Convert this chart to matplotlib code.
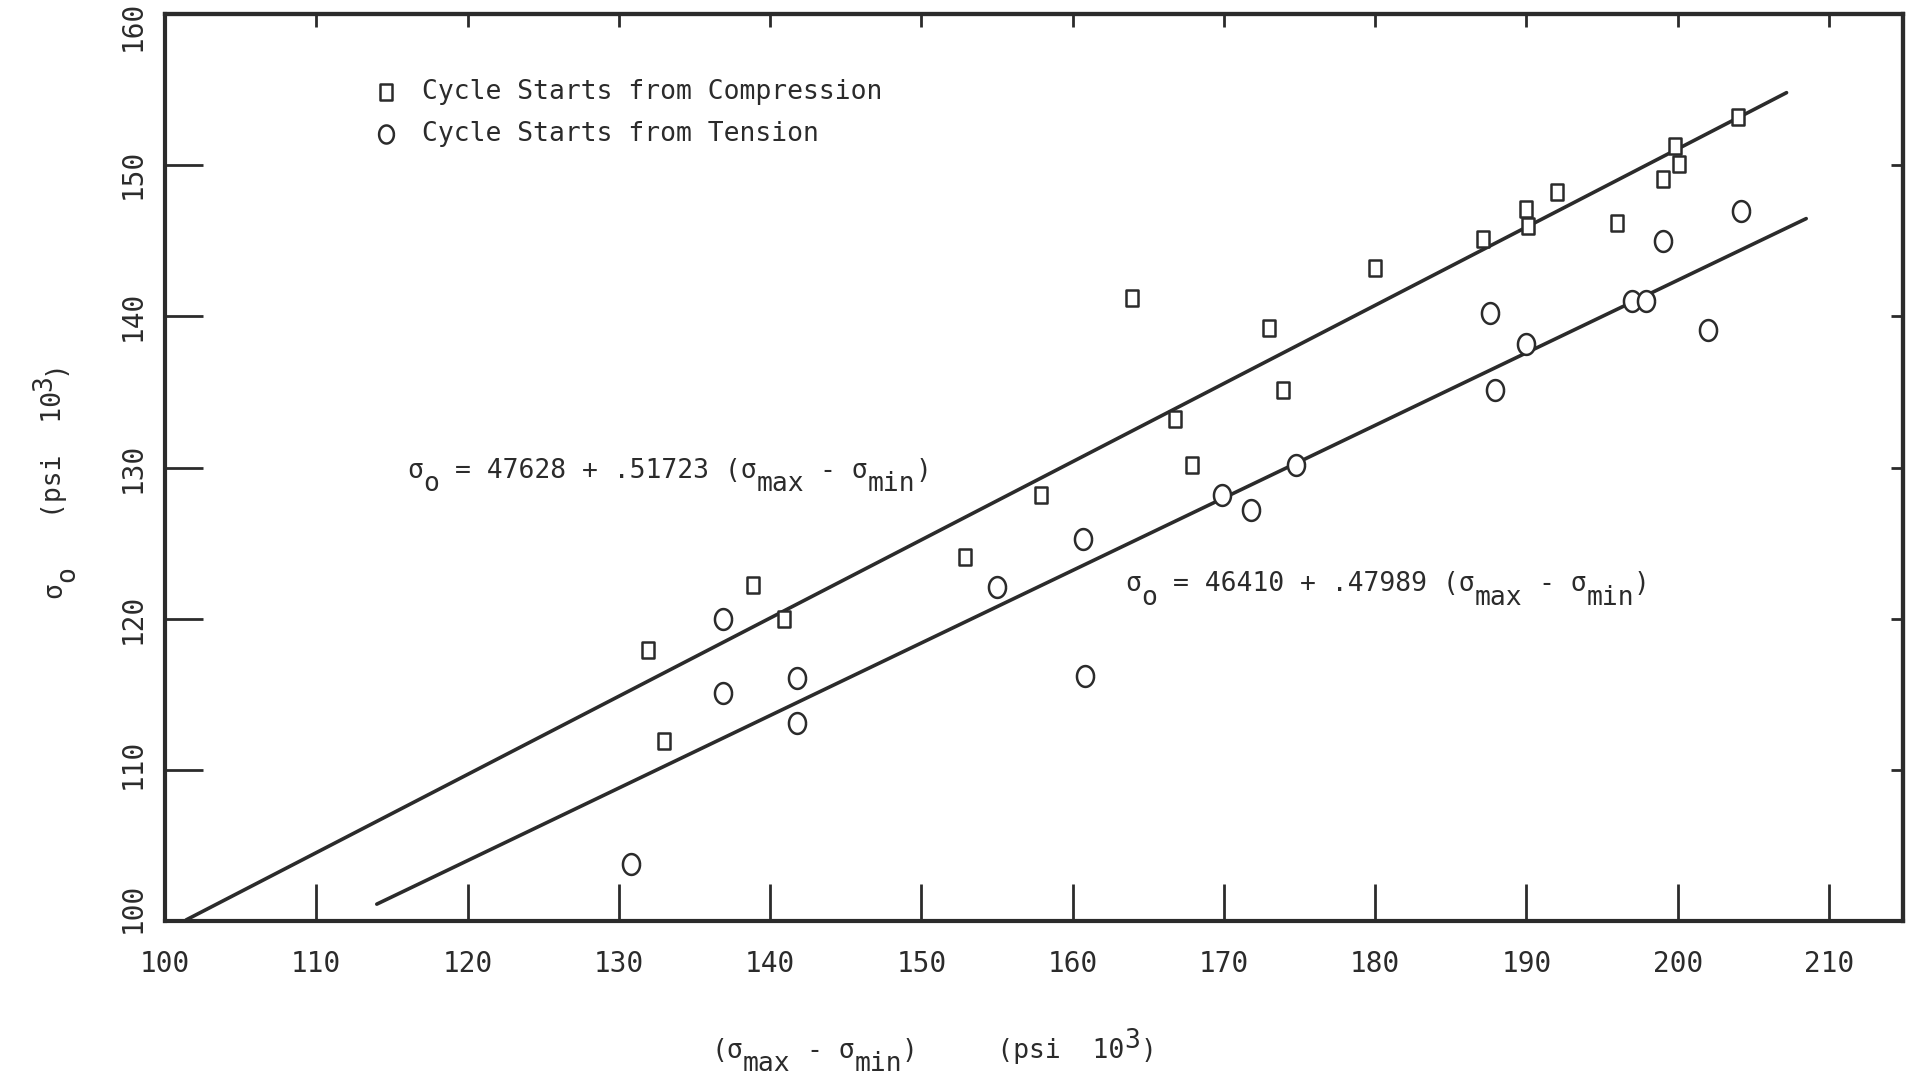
import matplotlib
matplotlib.use("Agg")
import matplotlib.pyplot as plt
from matplotlib.path import Path
from matplotlib.transforms import ScaledTranslation, offset_copy
import numpy as np

plt.rcParams["font.family"] = "DejaVu Sans Mono"

ink = '#2b2b2b'

# cycle starting from compression
comp_x = [131.9, 133.0, 138.9, 140.9, 152.9, 157.9, 163.9, 166.8, 167.9, 173.0, 173.9,
          180.0, 187.1, 190.0, 190.1, 192.0, 196.0, 199.0, 199.8, 200.1, 204.0]
comp_y = [117.9, 111.9, 122.2, 120.0, 124.1, 128.2, 141.2, 133.2, 130.2, 139.2, 135.1,
          143.2, 145.1, 147.1, 146.0, 148.2, 146.2, 149.1, 151.3, 150.1, 153.2]

# cycle starting from tension
tens_x = [130.8, 136.9, 136.9, 141.8, 141.8, 155.0, 160.7, 160.8, 169.9, 171.8,
          174.8, 187.6, 187.9, 190.0, 197.0, 197.9, 199.0, 202.0, 204.2]
tens_y = [103.8, 120.0, 115.1, 116.1, 113.1, 122.1, 125.3, 116.2, 128.2, 127.2,
          130.2, 140.2, 135.1, 138.2, 141.0, 141.0, 145.0, 139.1, 147.0]

# least squares fits (psi), drawn in psi*10^3
fit_comp = (47628., .51723)
fit_tens = (46410., .47989)
fit_comp_x = [101.4, 207.2]
fit_tens_x = [114.0, 208.5]

xticks = [100, 110, 120, 130, 140, 150, 160, 170, 180, 190, 200, 210]
yticks = [100, 110, 120, 130, 140, 150, 160]
# hand placed y labels sit a little off their ticks (pixels, + is up)
ylabel_nudge = {100: 13, 110: 6, 150: -9, 160: -12}

# slightly tall box and oval, like the typed symbols
box = Path([(-0.72, -1), (0.72, -1), (0.72, 1), (-0.72, 1), (-0.72, -1)],
           [Path.MOVETO, Path.LINETO, Path.LINETO, Path.LINETO, Path.CLOSEPOLY])
t = np.linspace(0, 2*np.pi, 60)
oval = Path(np.column_stack((0.82*np.cos(t), np.sin(t))))

fig = plt.figure(figsize=(19.12, 10.79), dpi=100)
ax = fig.add_axes([0.0863, 0.1464, 0.9953-0.0863, 0.987-0.1464])

ADV = 1233/2048.   # advance of a DejaVu Sans Mono glyph, in em


def typed(x, y, pieces, size=19, transform=None, rotation=0):
    """Typewriter style line: full size characters dropped or raised by
    a shift (points) instead of shrunk sub/superscripts."""
    if transform is None:
        transform = ax.transData
    col = 0
    for txt, shift in pieces:
        stripped = txt.lstrip(' ')
        col += len(txt) - len(stripped)
        if stripped:
            along = col*ADV*size
            if rotation == 90:
                dx, dy = -shift, along
            else:
                dx, dy = along, shift
            tr = offset_copy(transform, fig=fig, x=dx, y=dy, units='points')
            ax.text(x, y, stripped, transform=tr, fontsize=size, color=ink,
                    rotation=rotation, rotation_mode='anchor',
                    ha='left', va='baseline')
        col += len(stripped)


DROP = -9.5
RISE = 7.0

xc = np.array(fit_comp_x)
ax.plot(xc, fit_comp[0]/1000. + fit_comp[1]*xc, color=ink, lw=2.6, solid_capstyle='round')
xt = np.array(fit_tens_x)
ax.plot(xt, fit_tens[0]/1000. + fit_tens[1]*xt, color=ink, lw=2.6, solid_capstyle='round')

ax.plot(comp_x, comp_y, ls='none', marker=box, ms=11.5, mfc='white', mec=ink, mew=1.8)
ax.plot(tens_x, tens_y, ls='none', marker=oval, ms=15, mfc='white', mec=ink, mew=1.8)

# key
ax.plot([114.6], [154.85], ls='none', marker=box, ms=11.5, mfc='white', mec=ink, mew=1.8)
ax.plot([114.6], [152.05], ls='none', marker=oval, ms=13, mfc='white', mec=ink, mew=1.8)
ax.text(117.0, 154.85, 'Cycle Starts from Compression', fontsize=19, va='center', color=ink)
ax.text(117.0, 152.05, 'Cycle Starts from Tension', fontsize=19, va='center', color=ink)

for (a, b), x0, y0 in [(fit_comp, 116.0, 129.3), (fit_tens, 163.5, 121.8)]:
    typed(x0, y0, [('\u03c3', 0), ('o', DROP),
                   (' = %d + .%d (\u03c3' % (a, round(b*1e5)), 0), ('max', DROP),
                   (' - \u03c3', 0), ('min', DROP), (')', 0)])

ax.set_xlim(100, 214.9)
ax.set_ylim(100, 160)
ax.set_xticks(xticks)
ax.set_yticks(yticks)
ax.set_xticklabels([str(v) for v in xticks], fontsize=20, color=ink)
ax.set_yticklabels([str(v) for v in yticks], fontsize=20, color=ink, rotation=90, va='center')
ax.tick_params(axis='x', direction='in', length=27, width=2, color=ink, pad=21)
ax.tick_params(axis='y', direction='in', length=27, width=2, color=ink, pad=13)
for v, lab in zip(yticks, ax.get_yticklabels()):
    if v in ylabel_nudge:
        lab.set_transform(lab.get_transform() +
                          ScaledTranslation(0, ylabel_nudge[v]/100., fig.dpi_scale_trans))
for s in ax.spines.values():
    s.set_linewidth(3)
    s.set_color(ink)
    s.set_capstyle('projecting')

# shorter ticks along the top and right edges
top = ax.secondary_xaxis('top')
top.set_xticks(xticks)
top.tick_params(direction='in', length=9, width=2, color=ink, labeltop=False)
right = ax.secondary_yaxis('right')
right.set_yticks(yticks)
right.tick_params(direction='in', length=9, width=2, color=ink, labelright=False)
for sec in (top, right):
    for s in sec.spines.values():
        s.set_linewidth(3)
        s.set_color(ink)
        s.set_capstyle('projecting')

typed(0.372, 0.0195, [('(\u03c3', 0), ('max', DROP), (' - \u03c3', 0), ('min', DROP),
                      (')     (psi  10', 0), ('3', RISE), (')', 0)],
      transform=fig.transFigure)
typed(0.032, 0.446, [('\u03c3', 0), ('o', DROP), ('   (psi  10', 0), ('3', RISE), (')', 0)],
      transform=fig.transFigure, rotation=90)

fig.savefig('out.png', dpi=100)
